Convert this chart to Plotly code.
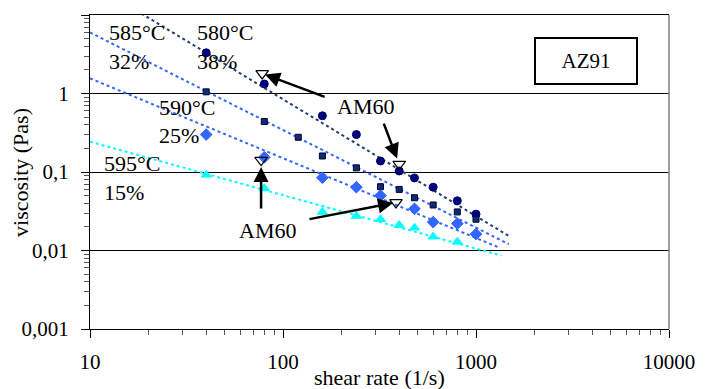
import math
import plotly.graph_objects as go

# ---------------- data ----------------
shear_580 = [40, 80, 160, 240, 320, 400, 480, 600, 800, 1000]
visc_580 = [3.3, 1.32, 0.52, 0.30, 0.138, 0.103, 0.084, 0.064, 0.043, 0.029]

shear_585 = [40, 80, 120, 160, 240, 320, 400, 480, 600, 800, 1000]
visc_585 = [1.05, 0.44, 0.277, 0.16, 0.113, 0.065, 0.060, 0.047, 0.038, 0.031, 0.025]

shear_590 = [40, 80, 160, 240, 320, 480, 600, 800, 1000]
visc_590 = [0.30, 0.154, 0.0845, 0.064, 0.050, 0.034, 0.023, 0.022, 0.0162]

shear_595 = [40, 80, 160, 240, 320, 400, 480, 600, 800]
visc_595 = [0.092, 0.062, 0.031, 0.0275, 0.025, 0.0211, 0.0195, 0.015, 0.0129]

# power-law trend lines (end points)
trend_x_580 = [10, 1500]
trend_y_580 = [26, 0.015]
trend_x_585 = [10, 1480]
trend_y_585 = [6.0, 0.012]
trend_x_590 = [10, 1330]
trend_y_590 = [1.56, 0.0108]
trend_x_595 = [10, 1355]
trend_y_595 = [0.243, 0.0086]

# AM60 reference points
am60_x = [78, 400, 385, 77]
am60_y = [1.8, 0.126, 0.041, 0.142]

x_tickvals = [10, 100, 1000, 10000]
x_ticktext = ["10", "100", "1000", "10000"]
y_tickvals = [0.001, 0.01, 0.1, 1, 10]
y_ticktext = ["0,001", "0,01", "0,1", "1", "10"]

FONT = "Liberation Serif"

fig = go.Figure()

trend_specs = [
    (trend_x_580, trend_y_580, "#1F3F6F"),
    (trend_x_585, trend_y_585, "#3366FF"),
    (trend_x_590, trend_y_590, "#3366FF"),
    (trend_x_595, trend_y_595, "#00FFFF"),
]
for tx, ty, col in trend_specs:
    fig.add_trace(go.Scatter(x=tx, y=ty, mode="lines",
                             line=dict(color=col, width=2, dash="3px,3px"),
                             hoverinfo="skip", showlegend=False))

fig.add_trace(go.Scatter(x=shear_580, y=visc_580, mode="markers",
                         marker=dict(symbol="circle", size=8, color="#000080",
                                     line=dict(color="#000060", width=1)),
                         showlegend=False))
fig.add_trace(go.Scatter(x=shear_585, y=visc_585, mode="markers",
                         marker=dict(symbol="square", size=6, color="#0F2D6B",
                                     line=dict(color="#000040", width=1)),
                         showlegend=False))
fig.add_trace(go.Scatter(x=shear_590, y=visc_590, mode="markers",
                         marker=dict(symbol="diamond", size=9, color="#3366FF",
                                     line=dict(color="#3366FF", width=1)),
                         showlegend=False))
fig.add_trace(go.Scatter(x=shear_595, y=visc_595, mode="markers",
                         marker=dict(symbol="triangle-up", size=9, color="#00FFFF",
                                     line=dict(color="#00FFFF", width=1)),
                         showlegend=False))
fig.add_trace(go.Scatter(x=am60_x, y=am60_y, mode="markers",
                         marker=dict(symbol="triangle-down-open", size=11, color="black",
                                     line=dict(width=1.2)),
                         showlegend=False))

annotations = []
# arrows pointing at AM60 points (pixel offsets of the arrow tails)
arrow_offsets = [(64, 24, 3), (-16, -42, 6), (-88, 17, 3), (0, 50, 7)]
for (px, py, so), xv, yv in zip(arrow_offsets, am60_x, am60_y):
    annotations.append(dict(x=math.log10(xv), y=math.log10(yv), xref="x", yref="y",
                            ax=px, ay=py, showarrow=True, arrowhead=2, arrowsize=1.2,
                            arrowwidth=2.5, arrowcolor="black", standoff=so, text=""))

def lab(text, xv, yv, anchor="left"):
    annotations.append(dict(x=math.log10(xv), y=math.log10(yv), xref="x", yref="y",
                            text=text, showarrow=False, xanchor=anchor, yanchor="middle",
                            font=dict(family=FONT, size=22, color="black")))

lab("585°C", 12.2, 5.9)
lab("32%", 12.2, 2.52)
lab("580°C", 35, 5.9)
lab("38%", 35, 2.52)
lab("590°C", 22.2, 0.67)
lab("25%", 22.2, 0.296)
lab("595°C", 11.5, 0.13)
lab("15%", 11.5, 0.0556)
lab("AM60", 268, 0.69, "center")
lab("AM60", 83.6, 0.018, "center")

# AZ91 box
annotations.append(dict(x=0.856, y=0.852, xref="paper", yref="paper", text="AZ91",
                        showarrow=False, xanchor="center", yanchor="middle",
                        width=100, height=44, borderpad=0, bordercolor="black",
                        borderwidth=2, bgcolor="white",
                        font=dict(family=FONT, size=21, color="black")))
# axis titles
annotations.append(dict(x=0.5, y=-0.153, xref="paper", yref="paper",
                        text="shear rate (1/s)", showarrow=False, xanchor="center",
                        yanchor="middle", font=dict(family=FONT, size=22, color="black")))
annotations.append(dict(x=-0.121, y=0.5, xref="paper", yref="paper",
                        text="viscosity (Pas)", showarrow=False, xanchor="center",
                        yanchor="middle", textangle=-90,
                        font=dict(family=FONT, size=22, color="black")))

minor_x = [m * 10 ** d for d in range(1, 4) for m in range(2, 10)]
minor_y = [m * 10 ** d for d in range(-3, 1) for m in range(2, 10)]

fig.update_layout(
    width=706, height=389,
    margin=dict(l=82, r=45, t=7, b=68, autoexpand=False),
    paper_bgcolor="white", plot_bgcolor="white",
    font=dict(family=FONT, size=21, color="black"),
    annotations=annotations,
    xaxis=dict(type="log", range=[1, 4], tickmode="array", tickvals=x_tickvals,
               ticktext=x_ticktext, ticks="outside", ticklen=8, tickwidth=1,
               tickcolor="black", showline=True, linecolor="black", linewidth=1,
               mirror=True, showgrid=False, zeroline=False, ticklabelstandoff=6,
               automargin=False,
               minor=dict(tickmode="array", tickvals=minor_x, ticks="outside",
                          ticklen=5, tickcolor="#555555", showgrid=False)),
    yaxis=dict(type="log", range=[-3, 1], tickmode="array", tickvals=y_tickvals,
               ticktext=y_ticktext, ticks="outside", ticklen=8, tickwidth=1,
               tickcolor="black", showline=True, linecolor="black", linewidth=1,
               showgrid=True, gridcolor="black", gridwidth=1, zeroline=False,
               ticklabelstandoff=8, automargin=False,
               minor=dict(tickmode="array", tickvals=minor_y, ticks="outside",
                          ticklen=5, tickcolor="#555555", showgrid=False)),
    shapes=[dict(type="line", xref="paper", yref="paper", x0=1, x1=1, y0=0, y1=1,
                 line=dict(color="#808080", width=1.5))],
)

fig.write_html("out.html")
